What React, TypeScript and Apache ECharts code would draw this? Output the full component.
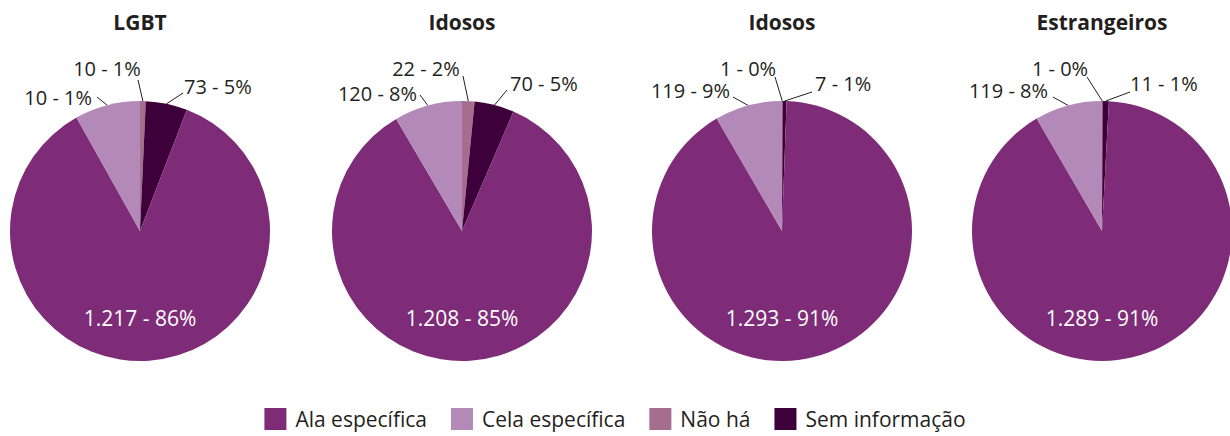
import React, { useEffect, useRef } from 'react';
import * as echarts from 'echarts';

const pieTitles = ['LGBT', 'Idosos', 'Idosos', 'Estrangeiros'];
const categories = ['Ala específica', 'Cela específica', 'Não há', 'Sem informação'];
const alaValues = [1217, 1208, 1293, 1289];
const celaValues = [115, 120, 119, 119];
const naoHaValues = [10, 22, 1, 1];
const semInfoValues = [73, 70, 7, 11];
const alaLabels = ['1.217 - 86%', '1.208 - 85%', '1.293 - 91%', '1.289 - 91%'];
const celaLabels = ['10 - 1%', '120 - 8%', '119 - 9%', '119 - 8%'];
const naoHaLabels = ['10 - 1%', '22 - 2%', '1 - 0%', '1 - 0%'];
const semInfoLabels = ['73 - 5%', '70 - 5%', '7 - 1%', '11 - 1%'];

const COLORS: Record<string, string> = {
  'Ala específica': '#7E2B78',
  'Cela específica': '#B389B8',
  'Não há': '#A66E8E',
  'Sem informação': '#3E003A',
};
const FONT = '"Open Sans", "Noto Sans", sans-serif';
const TEXT = '#231F20';

// layout
const pieCentersX = [140, 462, 782, 1102];
const pieCenterY = 231;
const radius = 130;
// label offsets relative to the pie centre: [dx, dy, align, attachDx, attachDy]
type LabelPos = [number, number, string, number, number];
const labelPos: Record<string, LabelPos[]> = {
  'Não há': [
    [-33, -163, 'center', -2, -151],
    [-36, -163, 'center', 1, -155],
    [-34, -163, 'center', -7, -154],
    [-42, -163, 'center', -15, -154],
  ],
  'Cela específica': [
    [-48, -134, 'right', -43, -134],
    [-45, -138, 'right', -42, -136],
    [-52, -141, 'right', -49, -134],
    [-54, -141, 'right', -49, -134],
  ],
  'Sem informação': [
    [44, -145, 'left', 43, -138],
    [48, -148, 'left', 45, -141],
    [33, -148, 'left', 30, -139],
    [28, -148, 'left', 28, -139],
  ],
};
const insideLabelDy = 87;

export default function App() {
  const ref = useRef<HTMLDivElement>(null);
  useEffect(() => {
    if (!ref.current) return;
    const chart = echarts.init(ref.current, undefined, { renderer: 'svg' });

    // slice order clockwise from 12 o'clock
    const order = ['Não há', 'Sem informação', 'Ala específica', 'Cela específica'];
    const valuesOf: Record<string, number[]> = {
      'Ala específica': alaValues,
      'Cela específica': celaValues,
      'Não há': naoHaValues,
      'Sem informação': semInfoValues,
    };
    const labelsOf: Record<string, string[]> = {
      'Ala específica': alaLabels,
      'Cela específica': celaLabels,
      'Não há': naoHaLabels,
      'Sem informação': semInfoLabels,
    };

    const series = pieTitles.map((t, p) => {
      const vals = order.map((c) => valuesOf[c][p]);
      const total = vals.reduce((a, b) => a + b, 0);
      let cum = 0;
      const mids = vals.map((v) => {
        const m = ((cum + v / 2) / total) * Math.PI * 2;
        cum += v;
        return m;
      });
      return {
        type: 'pie',
        name: t,
        center: [pieCentersX[p], pieCenterY],
        radius: [0, radius],
        startAngle: 90,
        clockwise: true,
        avoidLabelOverlap: false,
        silent: true,
        itemStyle: { borderWidth: 0 },
        data: order.map((c) => {
          const inside = c === 'Ala específica';
          return {
            name: c,
            value: valuesOf[c][p],
            itemStyle: { color: COLORS[c] },
            label: {
              show: true,
              position: inside ? 'inside' : 'outside',
              formatter: labelsOf[c][p],
              color: inside ? '#FFFFFF' : TEXT,
              fontFamily: FONT,
              fontSize: inside ? 21 : 20,
            },
            labelLine: {
              show: !inside,
              lineStyle: { color: TEXT, width: 1 },
            },
          };
        }),
        labelLayout: (params: any) => {
          const c = order[params.dataIndex];
          const cx = pieCentersX[p];
          if (c === 'Ala específica') {
            return { x: cx, y: pieCenterY + insideLabelDy, align: 'center', verticalAlign: 'middle' };
          }
          const lp = labelPos[c][p];
          const a = mids[params.dataIndex];
          const edge = [cx + radius * Math.sin(a), pieCenterY - radius * Math.cos(a)];
          return {
            x: cx + lp[0],
            y: pieCenterY + lp[1],
            align: lp[2],
            verticalAlign: 'middle',
            labelLinePoints: [edge, [cx + lp[3], pieCenterY + lp[4]]],
          };
        },
      };
    });

    chart.setOption({
      animation: false,
      graphic: pieTitles.map((t, p) => ({
        type: 'text',
        x: pieCentersX[p],
        y: 22,
        style: {
          text: t,
          align: 'center',
          verticalAlign: 'middle',
          font: `bold 21px ${FONT}`,
          fill: TEXT,
        },
      })),
      legend: {
        data: categories,
        left: 'center',
        top: 403,
        icon: 'rect',
        itemWidth: 22,
        itemHeight: 22,
        itemGap: 24,
        selectedMode: false,
        textStyle: {
          fontFamily: FONT,
          fontSize: 21,
          lineHeight: 22,
          color: TEXT,
          padding: [0, 0, 0, 4],
        },
      },
      series,
    });
    return () => chart.dispose();
  }, []);
  return (
    <div
      ref={ref}
      style={{ position: 'fixed', left: 0, top: 0, width: 1230, height: 436, background: '#fff' }}
    />
  );
}
